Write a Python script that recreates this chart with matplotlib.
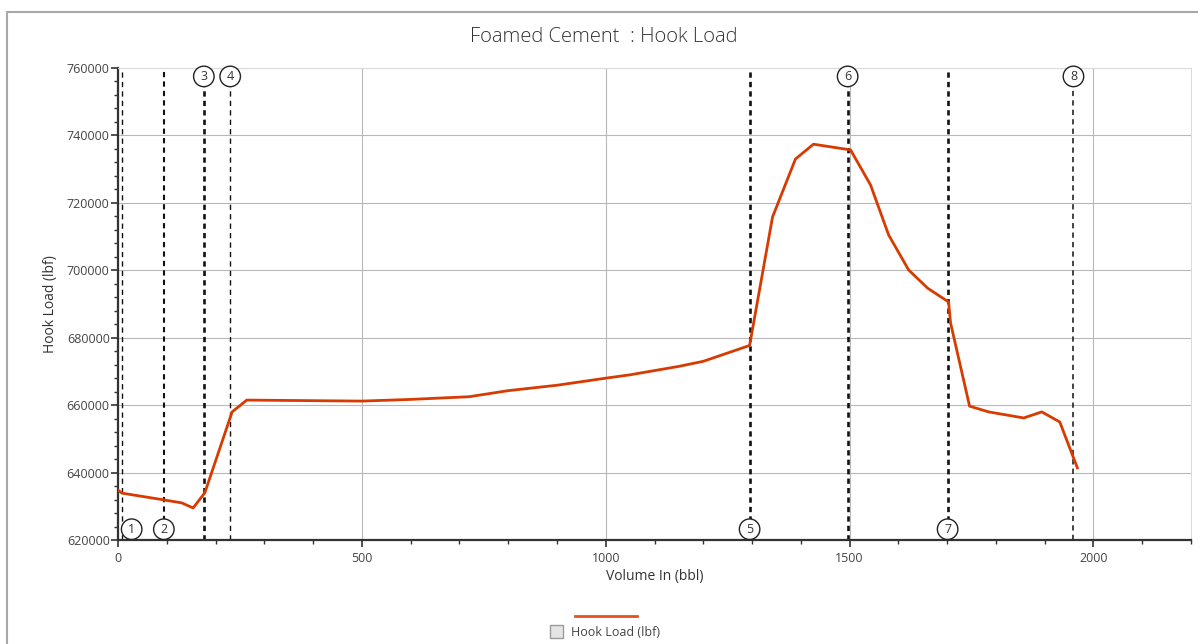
import numpy as np
import matplotlib.pyplot as plt
from matplotlib.lines import Line2D
from matplotlib.patches import Rectangle
from matplotlib.ticker import MultipleLocator

plt.rcParams['font.family'] = ['Open Sans', 'DejaVu Sans']

# Curve data
volume = [0, 8, 94, 131, 154, 178, 234, 264, 500, 600, 720, 800, 900, 1000, 1050,
          1150, 1200, 1295, 1342, 1389, 1426, 1502, 1543, 1580, 1621, 1660, 1703,
          1707, 1746, 1785, 1857, 1894, 1931, 1967]
hook_load = [634800, 633900, 631900, 631000, 629500, 634000, 658000, 661500, 661200,
             661700, 662500, 664300, 665900, 668000, 669000, 671500, 673000, 677700,
             715800, 733000, 737400, 735700, 725300, 710500, 700100, 694700, 690600,
             684400, 659700, 658000, 656200, 658000, 655000, 641400]

# Event markers
event_x = [8, 94, 176, 230, 1295, 1496, 1701, 1959]
event_labels = ['1', '2', '3', '4', '5', '6', '7', '8']
event_at_top = [False, False, True, True, False, True, False, True]
event_width = [1.0, 1.5, 1.9, 1.0, 1.9, 1.9, 1.9, 1.1]

fig = plt.figure(figsize=(11.98, 6.44), dpi=100)
ax = fig.add_axes([118 / 1198, 1 - 540 / 644, (1191 - 118) / 1198, (540 - 68) / 644])

# outer frame
fig.patches.append(Rectangle((7 / 1198, -0.1), 1.2, 1 - 12 / 644 + 0.1,
                             transform=fig.transFigure, fill=False,
                             edgecolor='#a8a8a8', linewidth=1.5))

ax.set_xlim(0, 2200)
ax.set_ylim(620000, 760000)
ax.xaxis.set_major_locator(MultipleLocator(500))
ax.xaxis.set_minor_locator(MultipleLocator(100))
ax.yaxis.set_major_locator(MultipleLocator(20000))
ax.yaxis.set_minor_locator(MultipleLocator(4000))
ax.grid(True, which='major', color='#b8b8b8', linewidth=0.8)
ax.set_axisbelow(True)

for s in ['top', 'right']:
    ax.spines[s].set_color('#dcdcdc')
for s in ['left', 'bottom']:
    ax.spines[s].set_color('#333333')
    ax.spines[s].set_linewidth(1.6)
ax.tick_params(which='major', length=5, width=1.2, colors='#333333', labelsize=9)
ax.tick_params(which='minor', length=3, width=1.0, colors='#333333')
ax.tick_params(axis='x', labelcolor='#444444')
ax.tick_params(axis='y', labelcolor='#444444', pad=1)

for x, lab, top, lw in zip(event_x, event_labels, event_at_top, event_width):
    ax.axvline(x, color='#111111', linestyle=(0, (3.8 / lw, 3.0 / lw)), linewidth=lw, zorder=2)
    if top:
        ty = 757500
        tx = x
    else:
        ty = 623200
        tx = x + (20 if lab == '1' else 0)
    ax.text(tx, ty, lab, ha='center', va='center', fontsize=9, color='#333333', zorder=4,
            bbox=dict(boxstyle='circle,pad=0.3', facecolor='white', edgecolor='#222222', linewidth=1.0))

ax.plot(volume, hook_load, color='#d83b01', linewidth=2.0, zorder=3)

ax.set_xlabel('Volume In (bbl)', fontsize=10, color='#333333', labelpad=3)
ax.set_ylabel('Hook Load (lbf)', fontsize=10, color='#333333', labelpad=6)
fig.text(604 / 1198, 1 - 37 / 644, 'Foamed Cement  : Hook Load', ha='center', va='center',
         fontsize=14.5, color='#333333', fontweight='light')

# legend
fig.add_artist(Line2D([575 / 1198, 637 / 1198], [1 - 616 / 644, 1 - 616 / 644],
                      color='#e8501e', linewidth=2, transform=fig.transFigure))
fig.patches.append(Rectangle((550 / 1198, 1 - 638 / 644), 13 / 1198, 13 / 644,
                             transform=fig.transFigure, facecolor='#e4e4e4',
                             edgecolor='#9a9a9a', linewidth=1))
fig.text(571 / 1198, 1 - 632 / 644, 'Hook Load (lbf)', ha='left', va='center',
         fontsize=9, color='#444444')

fig.savefig('out.png', dpi=100)
